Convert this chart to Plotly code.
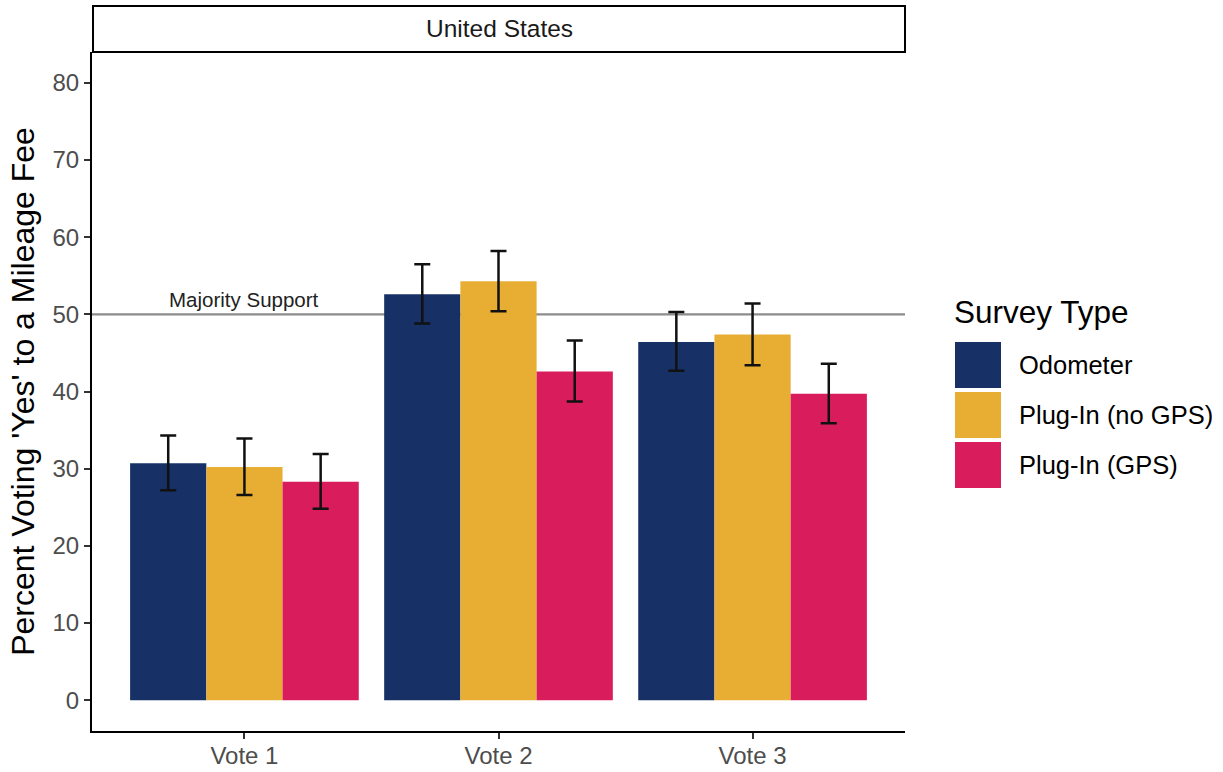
import plotly.graph_objects as go

# Survey results: share voting "Yes" to a mileage fee, with 95% intervals
votes = ["Vote 1", "Vote 2", "Vote 3"]
survey_types = ["Odometer", "Plug-In (no GPS)", "Plug-In (GPS)"]
colors = ["#173066", "#E8AE33", "#D91C5C"]

odometer = [30.7, 52.6, 46.4]
odometer_lo = [27.2, 48.8, 42.7]
odometer_hi = [34.3, 56.5, 50.3]

plugin_no_gps = [30.2, 54.3, 47.4]
plugin_no_gps_lo = [26.6, 50.4, 43.4]
plugin_no_gps_hi = [33.9, 58.2, 51.4]

plugin_gps = [28.3, 42.6, 39.7]
plugin_gps_lo = [24.8, 38.7, 35.9]
plugin_gps_hi = [31.9, 46.6, 43.6]

majority_level = 50
y_ticks = [0, 10, 20, 30, 40, 50, 60, 70, 80]

series = [
    (odometer, odometer_lo, odometer_hi),
    (plugin_no_gps, plugin_no_gps_lo, plugin_no_gps_hi),
    (plugin_gps, plugin_gps_lo, plugin_gps_hi),
]

FONT = "Liberation Sans, Arial, Helvetica, sans-serif"
W, H = 1223, 772
L, R, T, B = 92, 318, 52, 41
PW, PH = W - L - R, H - T - B


def px_x(px):
    return (px - L) / PW


def px_y(py):
    return (H - B - py) / PH


fig = go.Figure()
for name, color, (vals, lo, hi) in zip(survey_types, colors, series):
    fig.add_trace(go.Bar(
        x=votes, y=vals, name=name, marker=dict(color=color, line=dict(width=0)),
        error_y=dict(
            type="data", symmetric=False,
            array=[h - v for h, v in zip(hi, vals)],
            arrayminus=[v - l for l, v in zip(lo, vals)],
            color="#111111", thickness=2.5, width=8,
        ),
        showlegend=False,
    ))

# Majority support reference line
fig.add_shape(type="line", xref="paper", x0=0, x1=1, yref="y",
              y0=majority_level, y1=majority_level,
              line=dict(color="#8c8c8c", width=2.2), layer="below")
fig.add_annotation(x=votes[0], y=majority_level, xref="x", yref="y",
                   text="Majority Support", showarrow=False, yanchor="bottom",
                   yshift=1, font=dict(family=FONT, size=20.5, color="#222222"))

# Facet strip
fig.add_shape(type="rect", xref="paper", yref="paper", x0=px_x(93), x1=px_x(905),
              y0=px_y(52), y1=px_y(6), line=dict(color="black", width=2),
              fillcolor="white")
fig.add_annotation(xref="paper", yref="paper", x=px_x(499), y=px_y(29),
                   xanchor="center", yanchor="middle",
                   text="United States", showarrow=False,
                   font=dict(family=FONT, size=24.5, color="#1a1a1a"))

# Legend
fig.add_annotation(xref="paper", yref="paper", x=px_x(952), y=px_y(312),
                   xanchor="left", yanchor="middle", text="Survey Type",
                   showarrow=False, font=dict(family=FONT, size=31.5, color="black"))
for i, (name, color) in enumerate(zip(survey_types, colors)):
    top = 342 + 50 * i
    fig.add_shape(type="rect", xref="paper", yref="paper",
                  x0=px_x(955), x1=px_x(1001), y0=px_y(top + 46), y1=px_y(top),
                  fillcolor=color, line=dict(width=0))
    fig.add_annotation(xref="paper", yref="paper", x=px_x(1017), y=px_y(top + 23),
                       xanchor="left", yanchor="middle", text=name, showarrow=False,
                       font=dict(family=FONT, size=25.5, color="black"))

fig.update_layout(
    width=W, height=H,
    margin=dict(l=L, r=R, t=T, b=B, autoexpand=False),
    paper_bgcolor="white", plot_bgcolor="white",
    barmode="group", bargap=0.1, bargroupgap=0,
    font=dict(family=FONT),
    showlegend=False,
    xaxis=dict(
        range=[-0.6, 2.6], showline=True, linecolor="black", linewidth=2,
        ticks="outside", ticklen=6, tickwidth=1.5, tickcolor="#333333",
        ticklabelstandoff=-4,
        tickfont=dict(family=FONT, size=24, color="#4d4d4d"),
        showgrid=False, zeroline=False, automargin=False,
    ),
    yaxis=dict(
        range=[-4, 84], tickvals=y_ticks, showline=True, linecolor="black",
        linewidth=2, ticks="outside", ticklen=6, tickwidth=1.5,
        tickcolor="#333333",
        tickfont=dict(family=FONT, size=24, color="#4d4d4d"),
        showgrid=False, zeroline=False, automargin=False,
        title=dict(text="Percent Voting 'Yes' to a Mileage Fee",
                   font=dict(family=FONT, size=32, color="black"), standoff=8),
    ),
)

fig.write_html("out.html")
